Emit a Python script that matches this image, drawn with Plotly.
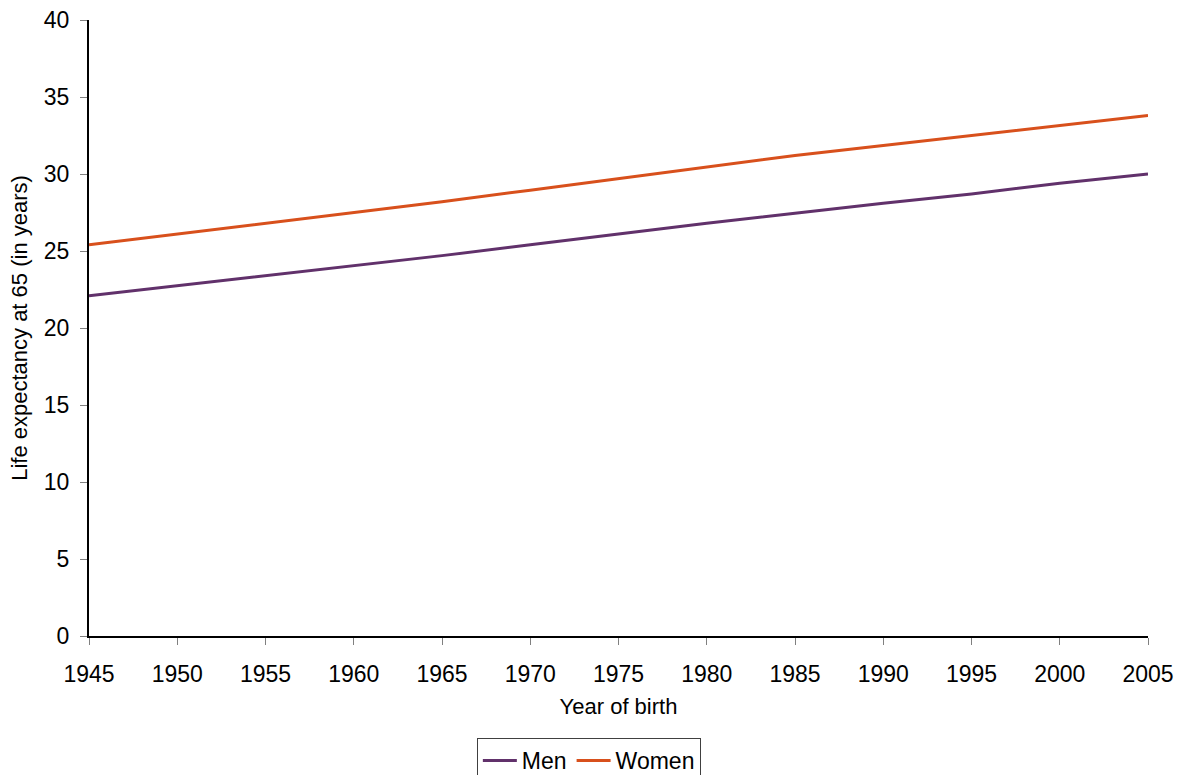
import plotly.graph_objects as go

# Year of birth and projected life expectancy at age 65
years = [1945, 1950, 1955, 1960, 1965, 1970, 1975, 1980, 1985, 1990, 1995, 2000, 2005]
men = [22.1, 22.75, 23.4, 24.05, 24.7, 25.4, 26.1, 26.8, 27.45, 28.1, 28.7, 29.4, 30.0]
women = [25.4, 26.1, 26.8, 27.5, 28.2, 28.95, 29.7, 30.45, 31.2, 31.85, 32.5, 33.15, 33.8]

x_ticks = list(range(1945, 2006, 5))
y_ticks = list(range(0, 41, 5))

FONT = "Liberation Sans, Arial, sans-serif"

fig = go.Figure()
fig.add_trace(go.Scatter(x=years, y=men, mode="lines", name="Men",
                         line=dict(color="#61316B", width=3)))
fig.add_trace(go.Scatter(x=years, y=women, mode="lines", name="Women",
                         line=dict(color="#D8501C", width=3)))

axis_common = dict(
    showgrid=False, zeroline=False,
    showline=True, linecolor="black", linewidth=2,
    ticks="outside", ticklen=7, tickwidth=1, tickcolor="#808080",
    tickfont=dict(family=FONT, size=23, color="black"),
)

fig.update_xaxes(range=[1945, 2005], tickvals=x_ticks, ticklabelstandoff=9,
                 title=dict(text="Year of birth", standoff=13,
                            font=dict(family=FONT, size=22, color="black")),
                 **axis_common)
fig.update_yaxes(range=[0, 40], tickvals=y_ticks, ticklabelstandoff=6,
                 title=dict(text="Life expectancy at 65 (in years)", standoff=10,
                            font=dict(family=FONT, size=22, color="black")),
                 **axis_common)

fig.update_layout(
    width=1189, height=775,
    margin=dict(l=89, r=41, t=20, b=139, autoexpand=False),
    plot_bgcolor="white", paper_bgcolor="white",
    font=dict(family=FONT, size=22, color="black"),
    showlegend=True,
    legend=dict(orientation="h", x=0.472, xanchor="center",
                yref="container", y=1 - 738 / 775, yanchor="top",
                bordercolor="#404040", borderwidth=1, bgcolor="white",
                font=dict(family=FONT, size=23, color="black"),
                itemwidth=34, tracegroupgap=0),
)

fig.write_html("out.html")
